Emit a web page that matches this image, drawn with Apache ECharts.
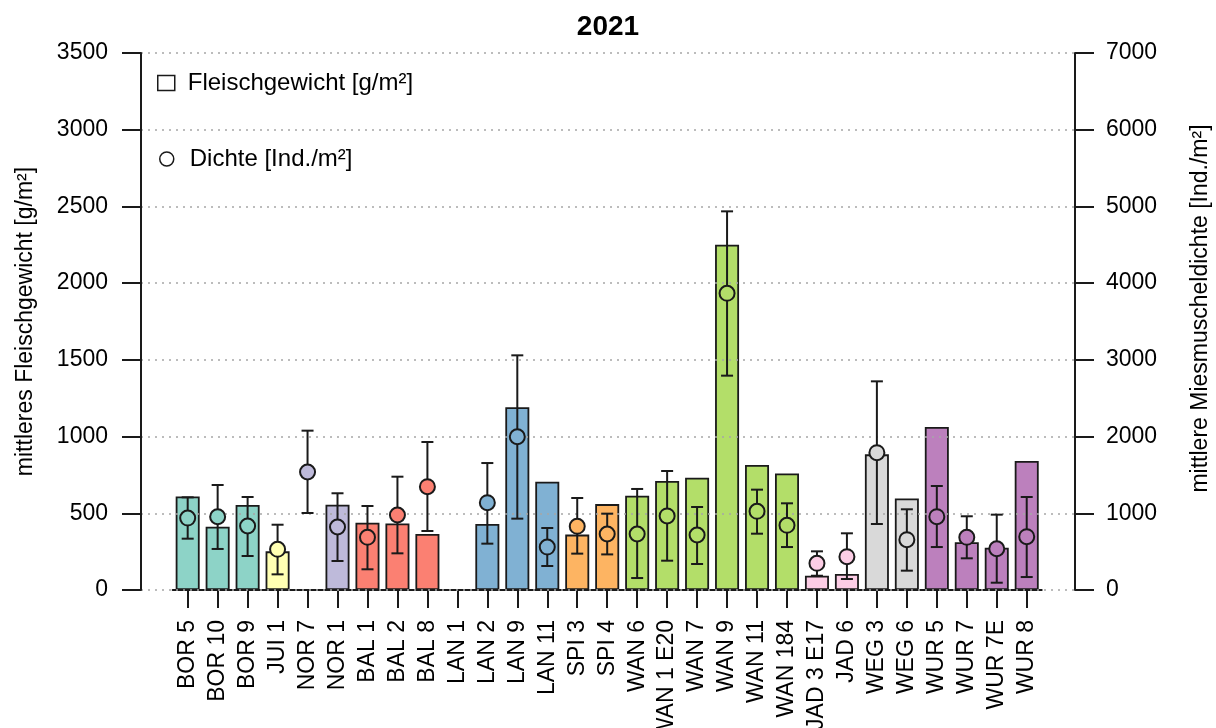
<!DOCTYPE html>
<html>
<head>
<meta charset="utf-8">
<script src="https://cdn.jsdelivr.net/npm/echarts@6/dist/echarts.min.js"></script>
<style>
  html, body { margin: 0; padding: 0; background: #fff; }
  #chart { width: 1216px; height: 728px; }
</style>
</head>
<body>
<div id="chart"></div>
<script>
// Stations sampled in 2021
const categories = ['BOR 5', 'BOR 10', 'BOR 9', 'JUI 1', 'NOR 7', 'NOR 1', 'BAL 1', 'BAL 2', 'BAL 8',
  'LAN 1', 'LAN 2', 'LAN 9', 'LAN 11', 'SPI 3', 'SPI 4', 'WAN 6', 'WAN 1 E20', 'WAN 7', 'WAN 9',
  'WAN 11', 'WAN 184', 'JAD 3 E17', 'JAD 6', 'WEG 3', 'WEG 6', 'WUR 5', 'WUR 7', 'WUR 7E', 'WUR 8'];

// mean flesh weight [g/m²] (bars, left axis)
const fleischgewicht = [610, 413, 554, 252, null, 556, 439, 434, 365, null, 430, 1191, 706, 361, 560,
  615, 710, 732, 2251, 815, 760, 93, 104, 884, 597, 1062, 311, 276, 841];

// mean mussel density [Ind./m²] (points, right axis) with error range
const dichte = [938, 955, 834, 530, 1538, 821, 687, 978, 1347, null, 1138, 1998, 560, 830, 730,
  730, 965, 717, 3867, 1026, 843, 348, 434, 1790, 656, 956, 687, 538, 695];
const dichteOben = [1208, 1369, 1212, 851, 2077, 1261, 1095, 1477, 1929, null, 1655, 3059, 808, 1199, 995,
  1317, 1551, 1082, 4936, 1308, 1130, 504, 739, 2720, 1052, 1356, 961, 982, 1212];
const dichteUnten = [669, 535, 443, 204, 1004, 378, 270, 478, 769, null, 604, 930, 313, 474, 464,
  156, 382, 339, 2794, 734, 560, 186, 143, 860, 252, 560, 413, 95, 169];

const leftTicks = { min: 0, max: 3500, interval: 500 };
const rightTicks = { min: 0, max: 7000, interval: 1000 };

// colour per area (station prefix)
const areaColors = {
  BOR: '#8DD3C7', JUI: '#FFFFB3', NOR: '#BEBADA', BAL: '#FB8072', LAN: '#80B1D3',
  SPI: '#FDB462', WAN: '#B3DE69', JAD: '#FCCDE5', WEG: '#D9D9D9', WUR: '#BC80BD'
};
const colorOf = name => areaColors[name.split(' ')[0]];

const FONT = '"Liberation Sans", Arial, sans-serif';
const INK = '#1a1a1a';

const chart = echarts.init(document.getElementById('chart'), null, { renderer: 'canvas' });

const errorData = categories.map((c, i) => [i, dichteUnten[i], dichteOben[i]])
  .filter(d => d[1] != null && d[2] != null);

const plainNumber = v => String(v);

const option = {
  backgroundColor: '#fff',
  animation: false,
  title: {
    text: '2021', left: 'center', top: 8,
    textStyle: { fontFamily: FONT, fontSize: 28, fontWeight: 'bold', color: '#000' }
  },
  legend: [
    {
      left: 157, top: 71, padding: 0, itemWidth: 17, itemHeight: 15,
      data: [{ name: 'Fleischgewicht [g/m²]', icon: 'rect',
        itemStyle: { color: '#fff', borderColor: INK, borderWidth: 1.5 } }],
      textStyle: { fontFamily: FONT, fontSize: 24, color: '#000', lineHeight: 24, padding: [0, 0, 0, 8] }
    },
    {
      left: 159, top: 147, padding: 0, itemWidth: 14, itemHeight: 14,
      data: [{ name: 'Dichte [Ind./m²]', icon: 'circle',
        itemStyle: { color: '#fff', borderColor: INK, borderWidth: 1.5 } }],
      textStyle: { fontFamily: FONT, fontSize: 24, color: '#000', lineHeight: 24, padding: [0, 0, 0, 11] }
    }
  ],
  grid: [
    { left: 141, right: 141, top: 53, bottom: 138, outerBoundsMode: 'none', containLabel: false },
    { left: 172.7, right: 174.3, top: 53, bottom: 138, outerBoundsMode: 'none', containLabel: false }
  ],
  xAxis: [
    { gridIndex: 0, type: 'value', show: false, min: 0, max: 1 },
    {
      gridIndex: 1, type: 'category', data: categories, boundaryGap: true,
      axisLine: { show: true, lineStyle: { color: INK, width: 2 } },
      axisTick: { show: true, alignWithLabel: true, length: 18, lineStyle: { color: INK, width: 2 } },
      axisLabel: { rotate: 90, margin: 30, interval: 0, fontFamily: FONT, fontSize: 23, color: '#000' }
    }
  ],
  yAxis: [
    {
      gridIndex: 0, type: 'value', position: 'left', z: 3,
      min: leftTicks.min, max: leftTicks.max, interval: leftTicks.interval,
      name: 'mittleres Fleischgewicht [g/m²]', nameLocation: 'middle', nameGap: 104, nameRotate: 90,
      nameTextStyle: { fontFamily: FONT, fontSize: 23, color: '#000' },
      axisLine: { show: true, lineStyle: { color: INK, width: 2 } },
      axisTick: { show: true, length: 19, lineStyle: { color: INK, width: 2 } },
      axisLabel: { margin: 33, fontFamily: FONT, fontSize: 23, color: '#000', formatter: plainNumber },
      splitLine: { show: true, lineStyle: { color: '#a6a6a6', width: 1.5, type: [2, 5] } }
    },
    {
      gridIndex: 0, type: 'value', position: 'right', z: 3,
      min: rightTicks.min, max: rightTicks.max, interval: rightTicks.interval,
      name: 'mittlere Miesmuscheldichte [Ind./m²]', nameLocation: 'middle', nameGap: 114, nameRotate: 90,
      nameTextStyle: { fontFamily: FONT, fontSize: 23, color: '#000', padding: [0, 0, 0, 26] },
      axisLine: { show: true, lineStyle: { color: INK, width: 2 } },
      axisTick: { show: true, length: 19, lineStyle: { color: INK, width: 2 } },
      axisLabel: { margin: 31, fontFamily: FONT, fontSize: 23, color: '#000', formatter: plainNumber },
      splitLine: { show: false }
    },
    { gridIndex: 1, type: 'value', show: false, min: leftTicks.min, max: leftTicks.max },
    { gridIndex: 1, type: 'value', show: false, min: rightTicks.min, max: rightTicks.max }
  ],
  series: [
    {
      name: 'Fleischgewicht [g/m²]', type: 'bar', xAxisIndex: 1, yAxisIndex: 2, z: 1,
      barWidth: 24,
      data: fleischgewicht,
      itemStyle: {
        color: p => colorOf(categories[p.dataIndex]),
        borderColor: INK, borderWidth: 1.8
      }
    },
    {
      name: 'errorbars', type: 'custom', xAxisIndex: 1, yAxisIndex: 3, z: 4,
      data: errorData,
      encode: { x: 0, y: [1, 2] },
      renderItem: (params, api) => {
        const lo = api.coord([api.value(0), api.value(1)]);
        const hi = api.coord([api.value(0), api.value(2)]);
        const h = 6;
        const style = { stroke: INK, lineWidth: 2 };
        return {
          type: 'group',
          children: [
            { type: 'line', shape: { x1: lo[0], y1: lo[1], x2: hi[0], y2: hi[1] }, style },
            { type: 'line', shape: { x1: hi[0] - h, y1: hi[1], x2: hi[0] + h, y2: hi[1] }, style },
            { type: 'line', shape: { x1: lo[0] - h, y1: lo[1], x2: lo[0] + h, y2: lo[1] }, style }
          ]
        };
      }
    },
    {
      name: 'Dichte [Ind./m²]', type: 'scatter', xAxisIndex: 1, yAxisIndex: 3, z: 5,
      symbol: 'circle', symbolSize: 15,
      data: dichte,
      itemStyle: {
        color: p => colorOf(categories[p.dataIndex]),
        borderColor: INK, borderWidth: 2, opacity: 1
      }
    }
  ]
};

chart.setOption(option);
</script>
</body>
</html>
